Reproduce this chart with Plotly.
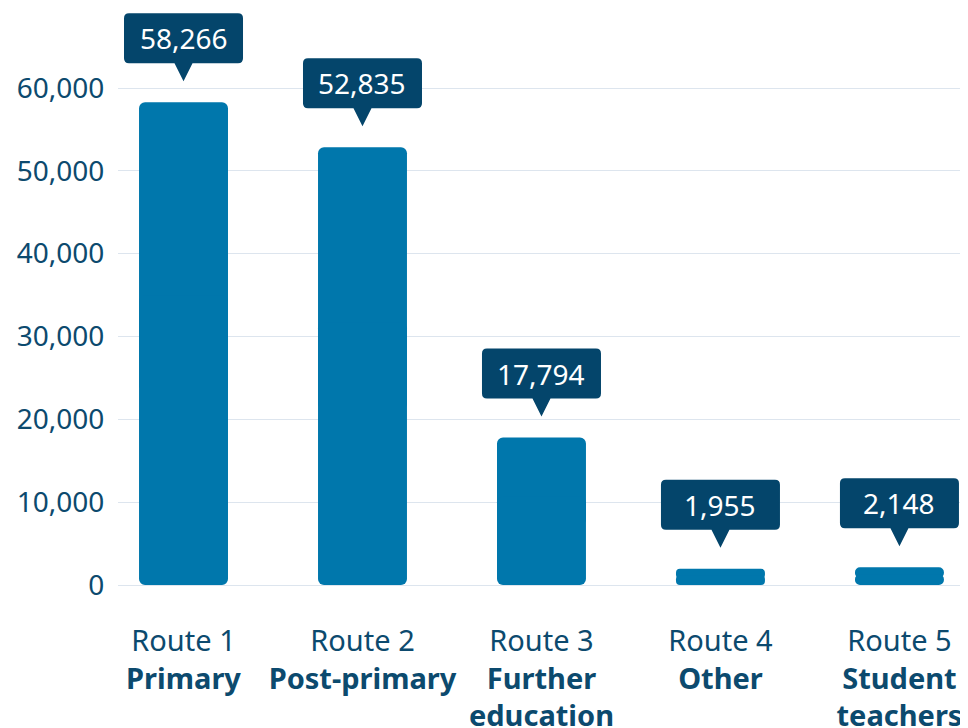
import plotly.graph_objects as go

routes = ["Route 1", "Route 2", "Route 3", "Route 4", "Route 5"]
names = ["Primary", "Post-primary", "Further<br>education", "Other", "Student<br>teachers"]
values = [58266, 52835, 17794, 1955, 2148]
y_ticks = [0, 10000, 20000, 30000, 40000, 50000, 60000]

BAR = "#0077ac"
CALLOUT = "#04456b"
TEXT = "#0c4a6e"
GRID = "#dde5ee"
FONT = "Source Sans Pro, Noto Sans, sans-serif"

xs = list(range(len(values)))
ticktext = [f"{r}<br><b>{n}</b>" for r, n in zip(routes, names)]

fig = go.Figure()
# upper part (rounded top) and lower part (rounded bottom) overlaid -> bar rounded at both ends
fig.add_trace(go.Bar(x=xs, y=[v * 0.6 for v in values], base=[v * 0.4 for v in values],
                     width=0.497, marker=dict(color=BAR, cornerradius=6, line=dict(width=0)),
                     hoverinfo="skip"))
fig.add_trace(go.Bar(x=xs, y=[-v * 0.6 for v in values], base=[v * 0.6 for v in values],
                     width=0.497, marker=dict(color=BAR, cornerradius=6, line=dict(width=0)),
                     hoverinfo="skip"))

# callout shapes (pixel sized, anchored at bar tops)
w, yb, yt, tip, tw, r = 59.5, 39, 89, 21, 9, 5
path = (f"M {-tw},{yb} L 0,{tip} L {tw},{yb} L {w - r},{yb} Q {w},{yb} {w},{yb + r} "
        f"L {w},{yt - r} Q {w},{yt} {w - r},{yt} L {-w + r},{yt} Q {-w},{yt} {-w},{yt - r} "
        f"L {-w},{yb + r} Q {-w},{yb} {-w + r},{yb} Z")
shapes = []
annotations = []
for x, v in zip(xs, values):
    shapes.append(dict(type="path", xref="x", yref="y", xsizemode="pixel", ysizemode="pixel",
                       xanchor=x, yanchor=v, path=path, fillcolor=CALLOUT,
                       line=dict(width=0), layer="above"))
    annotations.append(dict(x=x, y=v, xref="x", yref="y", text=f"{v:,}", showarrow=False,
                            yshift=(yb + yt) / 2, yanchor="middle", xanchor="center",
                            font=dict(family=FONT, size=28, color="white")))

fig.update_layout(
    barmode="overlay",
    width=960, height=720,
    margin=dict(l=110, r=0, t=2, b=143),
    paper_bgcolor="white", plot_bgcolor="white",
    showlegend=False,
    shapes=shapes, annotations=annotations,
    font=dict(family=FONT, color=TEXT),
    xaxis=dict(range=[-0.366, 4.383], tickmode="array", tickvals=xs, ticktext=ticktext,
               showgrid=False, zeroline=False, showline=False, automargin=False,
               ticks="outside", ticklen=30, tickcolor="rgba(0,0,0,0)",
               tickfont=dict(family=FONT, size=29, color=TEXT)),
    yaxis=dict(range=[0, 69416], tickmode="array", tickvals=y_ticks,
               ticktext=[f"{t:,}" for t in y_ticks], automargin=False,
               showgrid=True, gridcolor=GRID, gridwidth=1,
               zeroline=True, zerolinecolor=GRID, zerolinewidth=1, showline=False,
               ticks="outside", ticklen=7, tickcolor="rgba(0,0,0,0)",
               tickfont=dict(family=FONT, size=28, color=TEXT)),
)

fig.write_html("out.html")
